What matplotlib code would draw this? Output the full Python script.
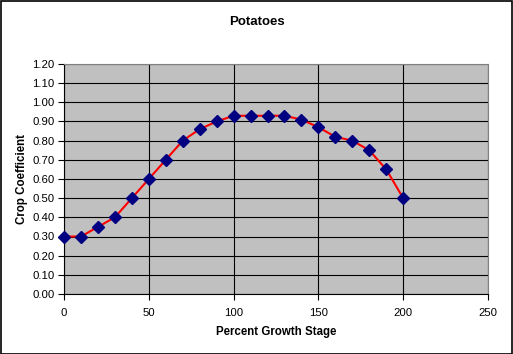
import matplotlib
matplotlib.use("Agg")
import matplotlib.pyplot as plt
from matplotlib.patches import Rectangle

plt.rcParams['font.family'] = ['Liberation Sans', 'DejaVu Sans']

growth_stage = [0, 10, 20, 30, 40, 50, 60, 70, 80, 90, 100,
                110, 120, 130, 140, 150, 160, 170, 180, 190, 200]
crop_coef = [0.30, 0.30, 0.35, 0.40, 0.50, 0.60, 0.70, 0.80, 0.86, 0.90, 0.93,
             0.93, 0.93, 0.93, 0.91, 0.87, 0.82, 0.80, 0.75, 0.65, 0.50]
x_ticks = [0, 50, 100, 150, 200, 250]
y_ticks = [i / 10 for i in range(13)]

fig = plt.figure(figsize=(5.13, 3.54), dpi=100)
fig.patch.set_facecolor('white')
fig.patches.append(Rectangle((0.001, 0.001), 0.997, 0.996, transform=fig.transFigure,
                             fill=False, edgecolor='black', linewidth=1.2))

ax = fig.add_axes([64/513, 60/354, 424/513, 230/354])
ax.set_facecolor('#C0C0C0')

ax.plot(growth_stage, crop_coef, color='red', linewidth=1.5, zorder=3, clip_on=False,
        marker='D', markersize=6.5, markerfacecolor='#000080', markeredgecolor='#000080')

ax.set_xlim(0, 250)
ax.set_ylim(0, 1.2)
ax.set_xticks(x_ticks)
ax.set_yticks(y_ticks)
ax.set_yticklabels(['%.2f' % v for v in y_ticks])
ax.grid(True, color='black', linewidth=0.8)
ax.set_axisbelow(True)

ax.tick_params(direction='out', length=4, width=0.8, labelsize=8.2, colors='black', pad=3)
ax.tick_params(axis='x', pad=6)
for side in ['top', 'right']:
    ax.spines[side].set_color('#808080')
    ax.spines[side].set_linewidth(0.8)
for side in ['left', 'bottom']:
    ax.spines[side].set_color('black')
    ax.spines[side].set_linewidth(0.8)

ax.set_xlabel('Percent Growth Stage', fontsize=8.3, fontweight='bold', labelpad=6)
ax.set_ylabel('Crop Coefficient', fontsize=8.3, fontweight='bold', labelpad=3)
fig.text(0.5, 1 - 22/354, 'Potatoes', ha='center', va='center',
         fontsize=9.5, fontweight='bold')

fig.savefig('out.png', dpi=100)
